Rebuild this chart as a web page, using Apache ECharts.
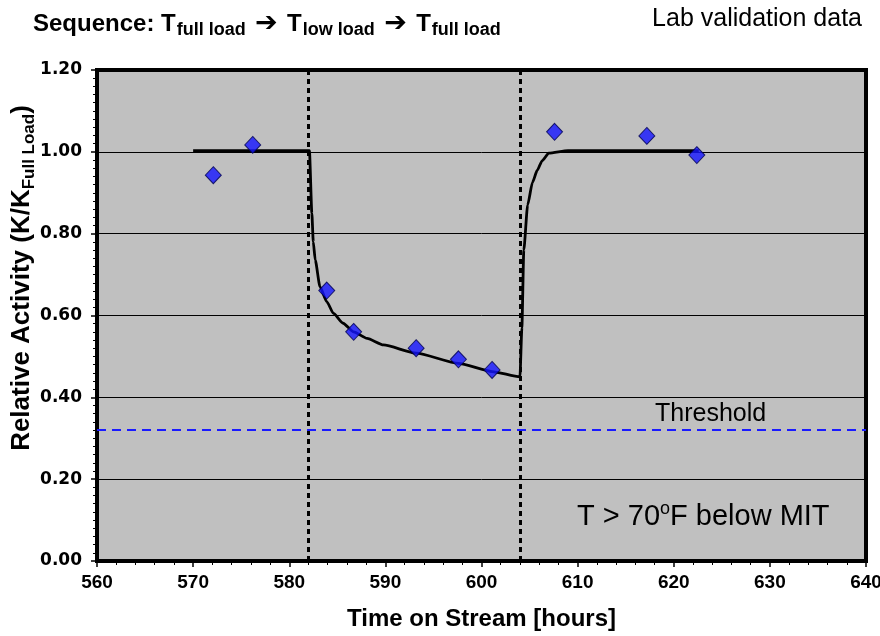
<!DOCTYPE html>
<html>
<head>
<meta charset="utf-8">
<script src="https://cdn.jsdelivr.net/npm/echarts@6/dist/echarts.min.js"></script>
<style>
  html, body { margin: 0; padding: 0; background: #fff; }
  #main { width: 880px; height: 636px; }
</style>
</head>
<body>
<div id="main"></div>
<script>
'use strict';

// lab validation points (diamonds)
var labTime = [572.1, 576.2, 583.9, 586.7, 593.2, 597.6, 601.1, 607.6, 617.2, 622.4];
var labActivity = [0.943, 1.017, 0.661, 0.560, 0.520, 0.493, 0.467, 1.049, 1.039, 0.992];

// model curve
var modelTime = [570, 582.1, 582.35, 582.5, 582.7, 583.2, 583.9, 584.6, 585.6, 586.7, 588.1, 589.8,
                 593.2, 597.6, 601.1, 604.0, 604.2, 604.4, 604.8, 605.3, 605.8, 606.3, 607.0, 609.0, 622.6];
var modelActivity = [1.003, 1.003, 0.85, 0.78, 0.736, 0.670, 0.634, 0.605, 0.581, 0.560, 0.544, 0.528,
                     0.508, 0.483, 0.463, 0.450, 0.57, 0.76, 0.87, 0.925, 0.955, 0.978, 0.997, 1.003, 1.003];

// load switch times and threshold
var switchTimes = [582, 604];
var threshold = 0.32;

var myChart = echarts.init(document.getElementById('main'));

var modelData = modelTime.map(function (t, i) { return [t, modelActivity[i]]; });
var labData = labTime.map(function (t, i) { return [t, labActivity[i]]; });

var arial = 'Liberation Sans, Arial, sans-serif';
var narrow = 'Liberation Sans Narrow, Arial Narrow, sans-serif';

var option = {
    backgroundColor: '#fff',
    animation: false,
    textStyle: { fontFamily: arial },
    grid: {
        left: 97, top: 70, width: 769, height: 491,
        outerBoundsMode: 'none',
        show: true, backgroundColor: '#c0c0c0',
        borderColor: '#000', borderWidth: 4
    },
    xAxis: {
        type: 'value', min: 560, max: 640, interval: 10,
        axisLine: { show: false },
        axisTick: { show: true, length: 6, lineStyle: { color: '#000', width: 1.5 } },
        minorTick: { show: true, splitNumber: 5, length: 4, lineStyle: { color: '#000', width: 1 } },
        splitLine: { show: false },
        axisLabel: { margin: 12, color: '#000', fontSize: 19, fontWeight: 'bold', fontFamily: narrow },
        name: 'Time on Stream [hours]', nameLocation: 'middle', nameGap: 46,
        nameTextStyle: { color: '#000', fontSize: 24, fontWeight: 'bold', fontFamily: narrow }
    },
    yAxis: {
        type: 'value', min: 0, max: 1.2, interval: 0.2,
        axisLine: { show: false },
        axisTick: { show: true, length: 6, lineStyle: { color: '#000', width: 1.5 } },
        minorTick: { show: true, splitNumber: 10, length: 4, lineStyle: { color: '#000', width: 1 } },
        splitLine: { show: true, lineStyle: { color: '#000', width: 1 } },
        axisLabel: {
            margin: 15, color: '#000', fontSize: 17, fontWeight: 'bold',
            fontFamily: 'DejaVu Sans, sans-serif',
            formatter: function (v) { return v.toFixed(2); }
        }
    },
    series: [
        {
            name: 'model', type: 'line', data: modelData,
            showSymbol: false, smooth: 0.2, smoothMonotone: 'x',
            lineStyle: { color: '#000', width: 2.8 },
            z: 3,
            markLine: {
                silent: true, symbol: 'none', animation: false,
                label: { show: false },
                data: [
                    { xAxis: switchTimes[0], lineStyle: { color: '#000', width: 3, type: [5, 4] } },
                    { xAxis: switchTimes[1], lineStyle: { color: '#000', width: 3, type: [5, 4] } },
                    { yAxis: threshold, lineStyle: { color: '#1a1aff', width: 2, type: [9, 6] } }
                ]
            }
        },
        {
            name: 'lab', type: 'scatter', data: labData,
            symbol: 'diamond', symbolSize: [16, 17],
            itemStyle: { color: '#1414ff', borderColor: '#000050', borderWidth: 1 },
            z: 4
        }
    ],
    graphic: [
        {
            type: 'text', left: 33, top: 9,
            style: {
                text: 'Sequence: T{s|full load}{a| \u2794 }T{s|low load}{a| \u2794 }T{s|full load}',
                fontSize: 24, fontWeight: 'bold', fill: '#000', lineHeight: 30,
                fontFamily: arial,
                rich: {
                    s: { fontSize: 18, fontWeight: 'bold', fill: '#000', lineHeight: 30, verticalAlign: 'bottom', padding: [12, 0, 0, 1] },
                    a: { fontSize: 27, fontWeight: 'bold', fill: '#000', lineHeight: 30, fontFamily: 'DejaVu Sans, sans-serif' }
                }
            }
        },
        {
            type: 'text', right: 18, top: 7,
            style: { text: 'Lab validation data', fontSize: 25, fill: '#000', fontFamily: arial }
        },
        {
            // y axis title, rotated
            type: 'text', x: 22, y: 278, rotation: Math.PI / 2,
            style: {
                text: 'Relative Activity (K/K{sub|Full Load})',
                align: 'center', verticalAlign: 'middle',
                fontSize: 26, fontWeight: 'bold', fill: '#000', lineHeight: 32, fontFamily: arial,
                rich: {
                    sub: { fontSize: 17, fontWeight: 'bold', fill: '#000', lineHeight: 32, verticalAlign: 'bottom', padding: [10, 0, 0, 0] }
                }
            }
        },
        {
            type: 'text', left: 655, top: 402,
            style: { text: 'Threshold', fontSize: 25, fill: '#000', fontFamily: arial }
        },
        {
            type: 'text', left: 577, top: 500,
            style: {
                text: 'T > 70{sup|o}F below MIT', fontSize: 29, fill: '#000', lineHeight: 34,
                fontFamily: arial,
                rich: {
                    sup: { fontSize: 18, fill: '#000', lineHeight: 34, verticalAlign: 'top', padding: [0, 0, 10, 0] }
                }
            }
        }
    ]
};

myChart.setOption(option);
</script>
</body>
</html>
